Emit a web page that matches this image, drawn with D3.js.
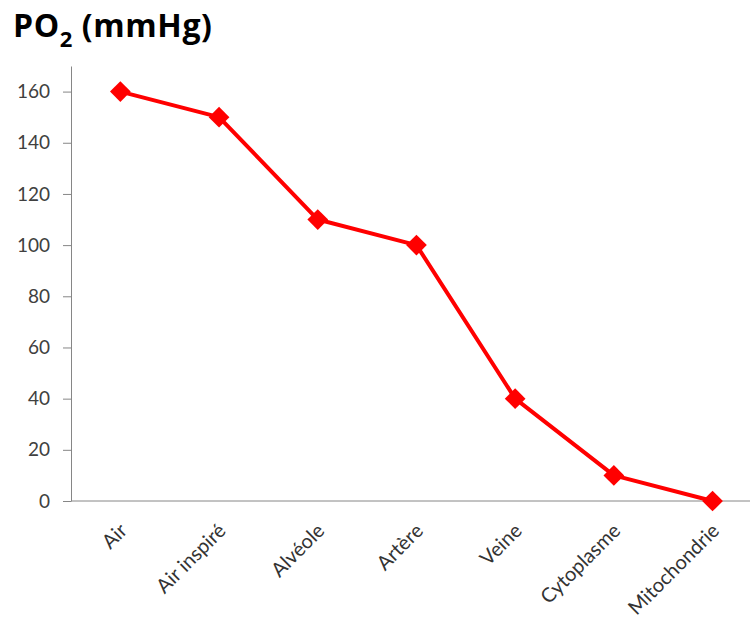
<!DOCTYPE html>
<html><head><meta charset="utf-8">
<script src="https://cdn.jsdelivr.net/npm/d3@7"></script>
<style>body{margin:0;background:#fff;} svg{display:block;}</style>
</head><body>
<svg id="c" width="750" height="618"></svg>
<script>
const categories = ["Air","Air inspiré","Alvéole","Artère","Veine","Cytoplasme","Mitochondrie"];
const po2Values = [160,150,110,100,40,10,0];
const yTicks = [0,20,40,60,80,100,120,140,160];

const svg = d3.select("#c");
const mLeft = 71, mBottom = 501, mTop = 66;
const x = d3.scaleBand().domain(categories).range([mLeft, mLeft + 7*98.7]);
const y = d3.scaleLinear().domain([0,170]).range([mBottom, mTop]);
const font = "Lato, 'Open Sans', sans-serif";

svg.append("text").attr("x",13).attr("y",37)
  .attr("font-family","'Open Sans', sans-serif").attr("font-weight","bold").attr("font-size",32).attr("letter-spacing",0.6).attr("fill","#000")
  .call(t=>{t.append("tspan").text("PO");
    t.append("tspan").attr("font-size",22).attr("dy",10).text("2");
    t.append("tspan").attr("dy",-10).text(" (mmHg)");});

const ya = svg.append("g").attr("transform",`translate(${mLeft},0)`)
  .call(d3.axisLeft(y).tickValues(yTicks).tickSize(8).tickPadding(13).tickSizeOuter(0));
ya.select(".domain").attr("stroke","#868686");
ya.selectAll(".tick line").attr("stroke","#868686");
ya.selectAll(".tick text").attr("font-family",font).attr("font-size",19).attr("fill","#404040");

svg.append("line").attr("x1",mLeft).attr("x2",750).attr("y1",y(0)).attr("y2",y(0)).attr("stroke","#868686");

const cx = d => x(d) + x.bandwidth()/2;
svg.selectAll(".xl").data(categories).enter().append("text")
  .attr("transform",d=>`translate(${cx(d)+3},${mBottom+26}) rotate(-45)`)
  .attr("text-anchor","end").attr("dy","0.35em")
  .attr("font-family",font).attr("font-size",20).attr("fill","#333").text(d=>d);

const line = d3.line().x((d,i)=>cx(categories[i])).y(d=>y(d));
svg.append("path").datum(po2Values).attr("d",line).attr("fill","none")
  .attr("stroke","#ff0000").attr("stroke-width",4).attr("stroke-linejoin","round");

svg.selectAll(".m").data(po2Values).enter().append("path")
  .attr("transform",(d,i)=>`translate(${cx(categories[i])},${y(d)}) rotate(45)`)
  .attr("d",d3.symbol().type(d3.symbolSquare).size(215)).attr("fill","#ff0000");
</script>
</body></html>
